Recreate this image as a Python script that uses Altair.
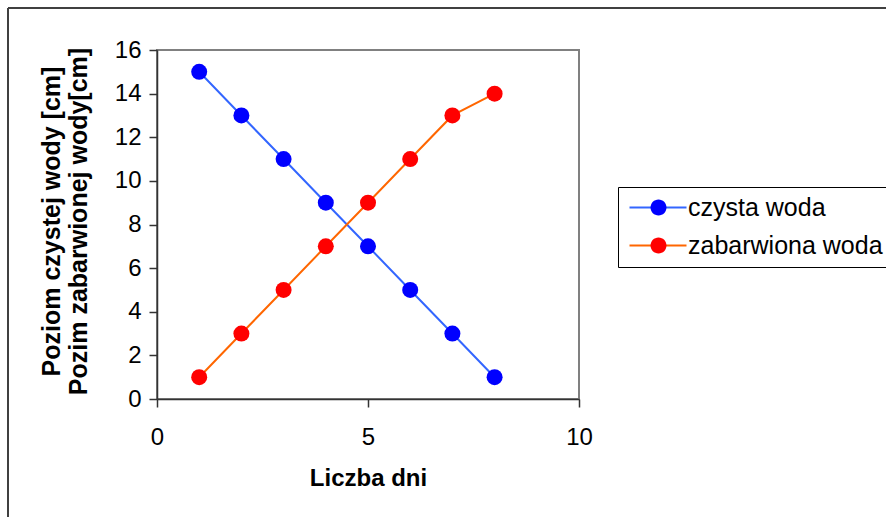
import altair as alt
import pandas as pd

days = [1, 2, 3, 4, 5, 6, 7, 8]
clean_water = [15, 13, 11, 9, 7, 5, 3, 1]
colored_water = [1, 3, 5, 7, 9, 11, 13, 14]
series_names = ["czysta woda", "zabarwiona woda"]
line_colors = ["#3366FF", "#FF6600"]
marker_colors = ["#0000FF", "#FF0000"]
x_ticks = [0, 5, 10]
y_ticks = [0, 2, 4, 6, 8, 10, 12, 14, 16]
y_title = ["Poziom czystej wody [cm]", "Pozim zabarwionej wody[cm]"]
x_title = "Liczba dni"

rows = []
for d, v in zip(days, clean_water):
    rows.append({"day": d, "level": v, "series": series_names[0]})
for d, v in zip(days, colored_water):
    rows.append({"day": d, "level": v, "series": series_names[1]})
df = pd.DataFrame(rows)

FONT = "Liberation Sans"

x_enc = alt.X(
    "day:Q",
    scale=alt.Scale(domain=[0, 10], nice=False, zero=False),
    axis=alt.Axis(
        values=x_ticks, title=x_title, grid=False, tickSize=8, tickWidth=1.5,
        tickColor="#333333", domainColor="#333333", domainWidth=1.5,
        labelFont=FONT, labelFontSize=24, labelColor="black", labelPadding=18,
        labelFlush=False, labelOverlap=False,
        titleFont=FONT, titleFontSize=24, titleFontWeight="bold", titleColor="black",
        titleBaseline="alphabetic", titleY=86, titleX=211,
    ),
)
y_enc = alt.Y(
    "level:Q",
    scale=alt.Scale(domain=[0, 16], nice=False, zero=False),
    axis=alt.Axis(
        values=y_ticks, title=y_title, grid=False, tickSize=8, tickWidth=1.5,
        tickColor="#333333", domainColor="#333333", domainWidth=1.5,
        labelFont=FONT, labelFontSize=24, labelColor="black", labelPadding=8,
        labelFlush=False, labelOverlap=False,
        titleFont=FONT, titleFontSize=25, titleFontWeight="bold", titleColor="black",
        titleAngle=270, titleBaseline="alphabetic", titleAlign="center",
        titleLineHeight=27, titleX=-98, titleY=171,
    ),
)

# legend symbols: shared layout, line path and circle path drawn in the same slot
LINE_SYMBOL = "M-1.125,0H6"
CIRCLE_SYMBOL = "M1.5,0A1,1 0 1,0 3.5,0A1,1 0 1,0 1.5,0Z"

legend_common = dict(
    title=None, orient="none", legendX=461, legendY=137,
    symbolSize=256, labelFont=FONT, labelFontSize=25, labelColor="black",
    labelOffset=37, rowPadding=12, padding=8, labelLimit=400,
)

lines = alt.Chart(df).mark_line(strokeWidth=2).encode(
    x=x_enc,
    y=y_enc,
    color=alt.Color(
        "series:N",
        scale=alt.Scale(domain=series_names, range=line_colors),
        legend=alt.Legend(
            symbolType=LINE_SYMBOL, symbolStrokeWidth=2, strokeColor="black",
            **legend_common,
        ),
    ),
    detail="series:N",
)

points = alt.Chart(df).mark_circle(size=256, opacity=1).encode(
    x=alt.X("day:Q"),
    y=alt.Y("level:Q"),
    fill=alt.Fill(
        "series:N",
        scale=alt.Scale(domain=series_names, range=marker_colors),
        legend=alt.Legend(
            symbolType=CIRCLE_SYMBOL, symbolStrokeWidth=0, symbolOpacity=1,
            labelOpacity=0, **legend_common,
        ),
    ),
)

border = alt.Chart(alt.Data(values=[{}])).mark_rule(
    color="#404040", strokeWidth=2
)
border_left = border.encode(x=alt.value(-149), y=alt.value(-42), y2=alt.value(470))
border_top = border.encode(x=alt.value(-149), x2=alt.value(732), y=alt.value(-42))

chart = alt.layer(border_left, border_top, lines, points).resolve_scale(
    color="independent", fill="independent"
).resolve_legend(color="independent", fill="independent").properties(
    width=422,
    height=349,
    autosize=alt.AutoSizeParams(type="none"),
    padding={"left": 157, "top": 50, "right": 307, "bottom": 118},
    background="white",
).configure_view(stroke="#808080", strokeWidth=2)

chart.save("out.html", embed_options={"renderer": "svg", "actions": False})
